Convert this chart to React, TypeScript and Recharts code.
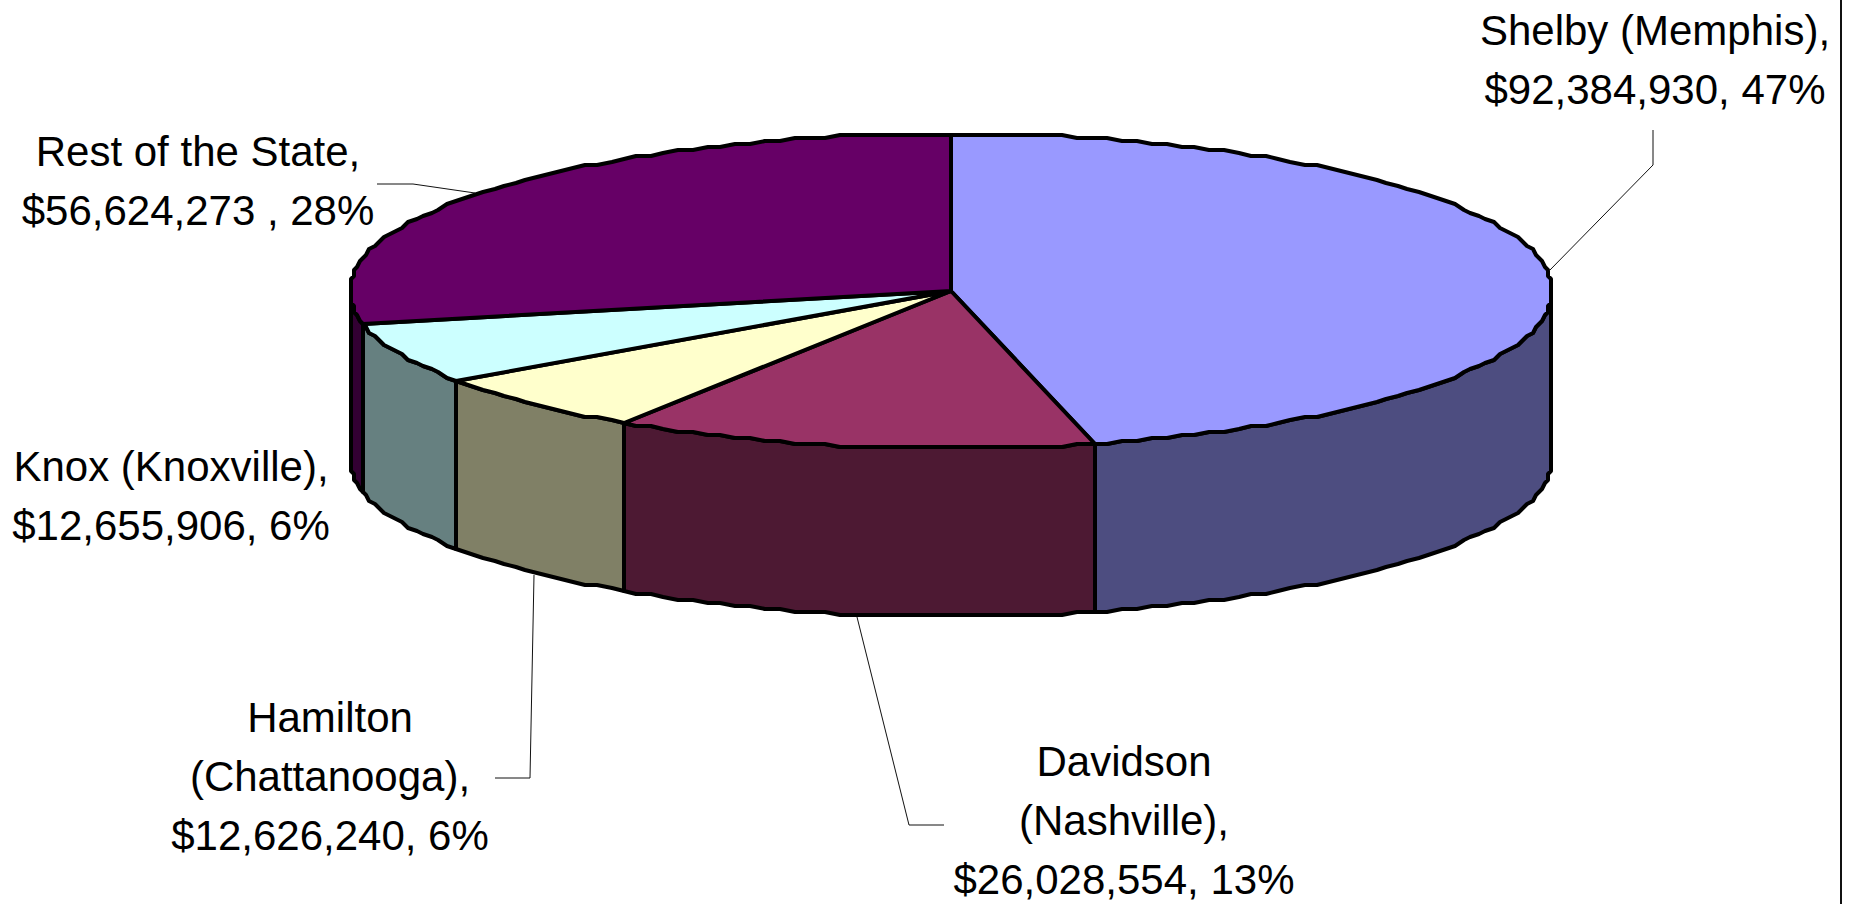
import { Pie, PieChart } from "recharts"

const counties = ["Shelby (Memphis)", "Davidson (Nashville)", "Hamilton (Chattanooga)", "Knox (Knoxville)", "Rest of the State"]
const amounts = [92384930, 26028554, 12626240, 12655906, 56624273]
const topColors = ["#9999ff", "#993366", "#ffffcc", "#ccffff", "#660066"]
const sideColors = ["#4d4d80", "#4d1933", "#808066", "#668080", "#330033"]
const labelLines = [
  ["Shelby (Memphis),", "$92,384,930, 47%"],
  ["Davidson", "(Nashville),", "$26,028,554, 13%"],
  ["Hamilton", "(Chattanooga),", "$12,626,240, 6%"],
  ["Knox (Knoxville),", "$12,655,906, 6%"],
  ["Rest of the State,", "$56,624,273 , 28%"],
]

const rows = counties.map((name, i) => ({ name, value: amounts[i], top: topColors[i], side: sideColors[i] }))

// label placement, x is the centre of the text and y the centre of the first line
const labelSpots = [
  { x: 1655, y: 30, leader: "1653,130 1653,165 1549,271" },
  { x: 1124, y: 761, leader: "857,617 909,825 944,825" },
  { x: 330, y: 717, leader: "495,778 530,778 534,575" },
  { x: 171, y: 466, leader: "" },
  { x: 198, y: 151, leader: "377,184 413,184 475,193" },
]

const WIDTH = 1849
const HEIGHT = 904
const CX = 951
const CY = 291
const RADIUS = 601
const TILT = 0.262
const DEPTH = 168
const LINE_GAP = 59
const FONT = "'Liberation Sans', Arial, sans-serif"

const snap = (v: number, step: number) => Math.round(v / step) * step

// the outline is stepped like the old metafile it came from, so snap to a small grid
const rimPoint = (cx: number, cy: number, r: number, deg: number) => {
  const a = (deg * Math.PI) / 180
  return [snap(cx + r * Math.cos(a), 3), snap(cy - r * TILT * Math.sin(a), 3)]
}

const rim = (cx: number, cy: number, r: number, from: number, to: number) => {
  const pts = [rimPoint(cx, cy, r, from)]
  for (let d = Math.floor(from / 1.5) * 1.5; d > to; d -= 1.5) {
    if (d < from) pts.push(rimPoint(cx, cy, r, d))
  }
  pts.push(rimPoint(cx, cy, r, to))
  return pts
}

const toPath = (pts: number[][]) => pts.map((p, i) => `${i ? "L" : "M"}${p[0]},${p[1]}`).join(" ")

function TopSlice(props: any) {
  const { cx, cy, outerRadius, startAngle, endAngle } = props
  const top = props.top ?? props.payload?.top
  const d = `M${cx},${cy} ${toPath(rim(cx, cy, outerRadius, startAngle, endAngle)).replace("M", "L")} Z`
  return <path d={d} fill={top} stroke="#000" strokeWidth={4} strokeLinejoin="round" />
}

// only the part of a slice in the front half of the pie shows a wall
function WallSlice(props: any) {
  const { cx, cy, outerRadius, startAngle, endAngle } = props
  const side = props.side ?? props.payload?.side
  const from = Math.min(startAngle, 0)
  const to = Math.max(endAngle, -180)
  if (from <= to) return <g />
  const upper = rim(cx, cy, outerRadius, from, to)
  const lower = upper.map((p) => [p[0], p[1] + DEPTH]).reverse()
  const d = `${toPath(upper)} ${toPath(lower).replace("M", "L")} Z`
  return <path d={d} fill={side} stroke="#000" strokeWidth={4} strokeLinejoin="round" />
}

function SliceLabel(props: any) {
  const i = props.index
  const spot = labelSpots[i]
  return (
    <g>
      {spot.leader && <polyline points={spot.leader} fill="none" stroke="#111" strokeWidth={1} />}
      <text textAnchor="middle" fontFamily={FONT} fontSize={42} fill="#000">
        {labelLines[i].map((line, n) => (
          <tspan key={n} x={spot.x} y={spot.y + n * LINE_GAP} dy="0.35em">
            {line}
          </tspan>
        ))}
      </text>
    </g>
  )
}

export default function App() {
  return (
    <div style={{ position: "absolute", left: 0, top: 0, width: WIDTH, height: HEIGHT, background: "#fff" }}>
      <PieChart width={WIDTH} height={HEIGHT} margin={{ top: 0, right: 0, bottom: 0, left: 0 }}>
        <Pie
          data={rows}
          dataKey="value"
          nameKey="name"
          cx={CX}
          cy={CY}
          outerRadius={RADIUS}
          startAngle={90}
          endAngle={-270}
          paddingAngle={0}
          shape={WallSlice}
          isAnimationActive={false}
        />
        <Pie
          data={rows}
          dataKey="value"
          nameKey="name"
          cx={CX}
          cy={CY}
          outerRadius={RADIUS}
          startAngle={90}
          endAngle={-270}
          paddingAngle={0}
          shape={TopSlice}
          label={SliceLabel}
          labelLine={false}
          isAnimationActive={false}
        />
      </PieChart>
      {/* frame edge that shows on the right of the original */}
      <div style={{ position: "absolute", left: 1840, top: 0, width: 2, height: HEIGHT, background: "#111" }} />
    </div>
  )
}
